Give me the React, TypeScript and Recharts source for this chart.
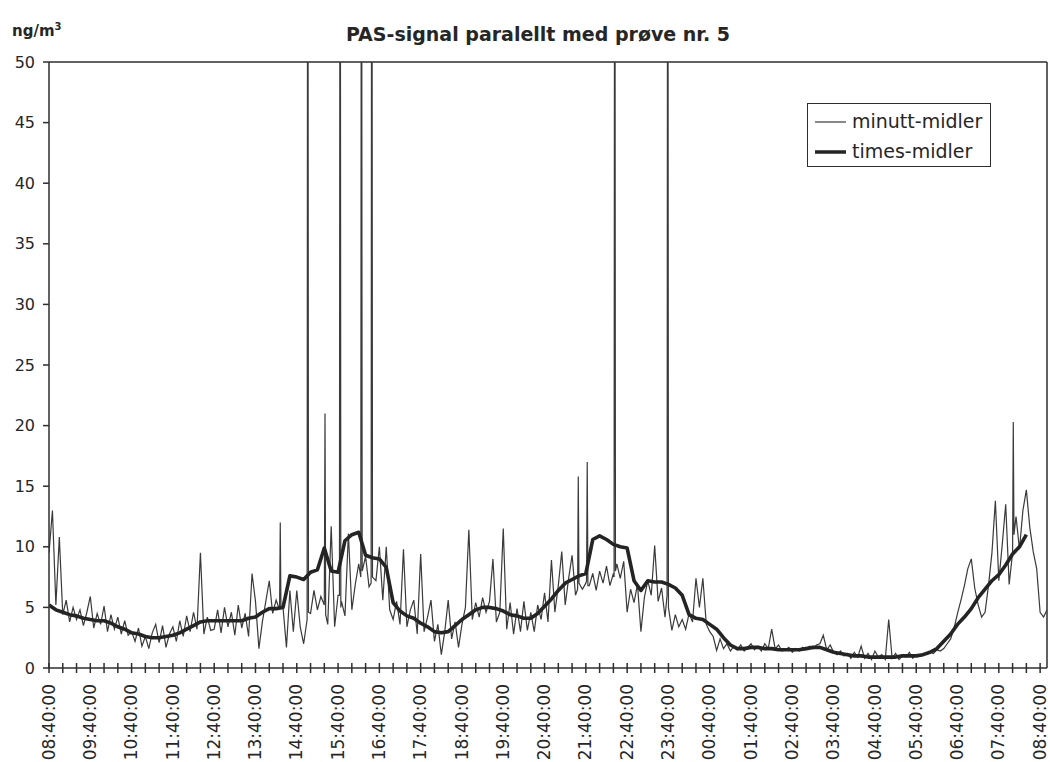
import { LineChart, Line, XAxis, YAxis, ReferenceLine, Legend } from 'recharts'

// colours
const AXIS = '#2e2e2e'
const TEXT = '#262626'
const MINUTE_COLOR = '#3a3a3a'
const HOUR_COLOR = '#242424'
const FONT = '"DejaVu Sans", Verdana, sans-serif'

// x axis: minutes after 08:40, one tick every 20 minutes, a label every hour.
// The frame runs a little past the last tick (to about 08:50).
const X_END = 1450
const HOUR_LABELS = [
  '08:40:00', '09:40:00', '10:40:00', '11:40:00', '12:40:00', '13:40:00',
  '14:40:00', '15:40:00', '16:40:00', '17:40:00', '18:40:00', '19:40:00',
  '20:40:00', '21:40:00', '22:40:00', '23:40:00', '00:40:00', '01:40:00',
  '02:40:00', '03:40:00', '04:40:00', '05:40:00', '06:40:00', '07:40:00',
  '08:40:00'
]
const X_TICKS = Array.from({ length: 73 }, (_, i) => i * 20)
const Y_TICKS = [0, 5, 10, 15, 20, 25, 30, 35, 40, 45, 50]

// minutt-midler, read every 5 minutes (one row = one hour)
const MINUTE_STEP = 5
const minuteValues = [
  9.5, 13.0, 5.2, 10.8, 4.4, 5.6, 3.8, 5.0, 4.0, 4.8, 3.5, 4.6,
  5.9, 3.3, 4.5, 3.6, 5.1, 3.0, 4.4, 3.2, 4.2, 2.8, 3.9, 2.7,
  3.0, 2.2, 3.3, 1.8, 2.6, 1.6, 2.9, 3.6, 2.1, 3.5, 1.7, 2.8,
  3.4, 2.2, 3.9, 2.6, 4.3, 3.0, 4.6, 3.2, 9.5, 2.8, 4.2, 3.1,
  3.2, 4.8, 2.9, 5.0, 3.4, 4.6, 2.7, 5.2, 3.3, 4.5, 2.6, 7.8,
  5.5, 1.6, 3.8, 5.5, 7.2, 4.5, 5.6, 4.8, 5.0, 1.7, 6.4, 3.0,
  6.4, 3.4, 2.0, 4.0, 4.5, 6.4, 4.8, 5.9, 5.2, 3.6, 11.7, 3.4,
  6.0, 5.5, 4.3, 11.1, 4.8, 6.9, 8.6, 8.0, 9.2, 6.7, 7.5, 7.2,
  10.0, 5.6, 10.0, 4.8, 4.0, 5.5, 3.6, 9.8, 3.4, 4.8, 5.6, 2.8,
  9.4, 3.0, 4.2, 5.6, 2.2, 3.6, 1.1, 3.0, 5.6, 2.4, 3.8, 1.7,
  3.6, 5.0, 11.4, 4.0, 5.4, 4.2, 5.8, 4.6, 5.5, 9.0, 3.8, 4.6,
  11.5, 3.2, 5.4, 2.8, 4.9, 3.0, 5.5, 3.1, 4.6, 3.0, 5.2, 4.0,
  6.2, 3.8, 8.9, 4.6, 6.8, 9.6, 5.2, 7.4, 9.3, 6.0, 7.0, 6.5,
  7.0, 6.8, 7.8, 6.4, 8.0, 7.0, 8.4, 6.8, 7.8, 8.6, 7.4, 8.8,
  4.6, 6.5, 5.4, 6.9, 3.0, 5.8, 7.2, 6.0, 10.1, 5.5, 6.6, 4.2,
  5.0, 3.1, 4.4, 3.4, 4.0, 3.2, 4.5, 3.8, 7.4, 5.0, 7.4, 3.6,
  3.0, 2.6, 1.45, 2.4, 1.6, 2.0, 1.4, 1.8, 1.5, 1.9, 1.4, 1.7,
  2.0, 1.5, 1.8, 1.4, 2.0, 1.6, 3.2, 1.6, 1.9, 1.4, 1.5, 1.7,
  1.3, 1.6, 1.4, 1.7, 1.5, 1.8, 1.6, 1.9, 2.0, 2.7, 1.5, 1.9,
  1.3, 1.1, 1.4, 1.0, 1.2, 0.8, 1.3, 0.9, 1.8, 0.8, 1.2, 0.7,
  1.4, 0.9, 1.1, 0.7, 4.0, 0.8, 1.2, 0.7, 1.0, 0.9, 1.3, 0.8,
  1.1, 1.0, 1.2, 1.1, 1.3, 1.2, 1.5, 1.4, 1.6, 2.0, 2.4, 3.3,
  4.5, 5.6, 6.8, 8.2, 9.0, 6.6, 5.2, 4.2, 4.6, 6.8, 9.5, 13.8,
  7.2, 10.2, 13.5, 6.9, 9.5, 12.5, 9.8, 13.0, 14.7, 11.6, 9.6, 8.2,
  4.6, 4.2, 4.8
]

// sharp one-minute spikes [minute, value]; values above 50 are off the scale and get clipped
const SPIKE_POINTS: [number, number][] = [
  [335, 4.8], [336, 12.0], [337, 5.0],
  [375, 4.0], [376, 90], [377, 4.6],
  [400, 5.2], [401, 21.0], [402, 4.4],
  [422, 6.0], [423, 90], [424, 5.0],
  [453, 7.5], [454, 90], [455, 8.0],
  [468, 7.0], [469, 90], [470, 7.5],
  [768, 6.5], [769, 15.8], [770, 7.0],
  [781, 7.2], [782, 17.0], [783, 6.8],
  [821, 7.5], [822, 90], [823, 8.0],
  [898, 6.0], [899, 90], [900, 5.0],
  [1400, 9.5], [1401, 20.3], [1402, 11.0]
]

// times-midler, read every 10 minutes (the line stops around 08:20)
const HOUR_STEP = 10
const hourValues = [
  5.2, 4.8, 4.6, 4.4, 4.3, 4.1,
  4.0, 3.9, 3.9, 3.7, 3.4, 3.2,
  2.9, 2.8, 2.6, 2.5, 2.5, 2.6,
  2.7, 2.9, 3.2, 3.5, 3.8, 3.9,
  3.9, 3.9, 3.9, 3.9, 3.9, 4.1,
  4.2, 4.6, 4.9, 4.9, 5.0, 7.6,
  7.5, 7.3, 7.9, 8.1, 9.9, 8.0,
  7.9, 10.5, 11.0, 11.2, 9.3, 9.1,
  9.0, 8.3, 5.4, 4.7, 4.3, 4.1,
  3.7, 3.4, 3.0, 2.9, 3.0, 3.5,
  4.0, 4.4, 4.8, 5.0, 5.0, 4.9,
  4.7, 4.4, 4.3, 4.1, 4.1, 4.5,
  5.1, 5.7, 6.4, 7.0, 7.3, 7.6,
  7.8, 10.6, 10.9, 10.6, 10.2, 10.0,
  9.9, 7.2, 6.4, 7.2, 7.1, 7.1,
  6.9, 6.6, 6.0, 4.4, 4.1, 4.0,
  3.6, 3.2, 2.5, 1.9, 1.6, 1.6,
  1.7, 1.7, 1.6, 1.6, 1.5, 1.5,
  1.5, 1.5, 1.6, 1.7, 1.7, 1.5,
  1.3, 1.2, 1.1, 1.0, 1.0, 0.9,
  0.9, 0.9, 0.9, 0.9, 1.0, 1.0,
  1.0, 1.1, 1.3, 1.6, 2.2, 2.8,
  3.6, 4.2, 4.9, 5.8, 6.5, 7.2,
  7.7, 8.5, 9.4, 10.0, 11.0
]

const spikeMinutes = new Set(SPIKE_POINTS.map(([t]) => t))
const minuteData = [
  ...minuteValues
    .map((v, i) => ({ t: i * MINUTE_STEP, v }))
    .filter((p) => !spikeMinutes.has(p.t)),
  ...SPIKE_POINTS.map(([t, v]) => ({ t, v }))
].sort((a, b) => a.t - b.t)
const hourData = hourValues.map((v, i) => ({ t: i * HOUR_STEP, v }))

const LEGEND_ITEMS = [
  { name: 'minutt-midler', color: MINUTE_COLOR, width: 1.2 },
  { name: 'times-midler', color: HOUR_COLOR, width: 3.5 }
]

const TimeTick = (props: any) => {
  const { x, y, payload } = props
  const t = payload.value as number
  const label = t % 60 === 0 ? HOUR_LABELS[t / 60] : null
  return (
    <g>
      <line x1={x} x2={x} y1={y - 5} y2={y + 5} stroke={AXIS} strokeWidth={1.5} />
      {label && (
        <text
          transform={`translate(${x},${y + 16}) rotate(-90)`}
          textAnchor="end"
          dy="0.33em"
          fontSize={17}
          fontFamily={FONT}
          fill={TEXT}
        >
          {label}
        </text>
      )}
    </g>
  )
}

const LegendBox = () => (
  <div
    style={{
      width: 184,
      height: 64,
      boxSizing: 'border-box',
      border: `1.5px solid ${AXIS}`,
      background: '#fff',
      fontFamily: FONT,
      fontSize: 19,
      color: TEXT,
      paddingTop: 2.5
    }}
  >
    {LEGEND_ITEMS.map((item) => (
      <div key={item.name} style={{ display: 'flex', alignItems: 'center', height: 30 }}>
        <svg width={44} height={10} style={{ flex: 'none' }}>
          <line x1={7} x2={38} y1={5} y2={5} stroke={item.color} strokeWidth={item.width} />
        </svg>
        <span style={{ lineHeight: 1 }}>{item.name}</span>
      </div>
    ))}
  </div>
)

export default function App() {
  return (
    <div style={{ position: 'absolute', left: 0, top: 0, width: 1050, height: 762, background: '#fff', fontFamily: FONT }}>
      <div
        style={{
          position: 'absolute',
          left: 12,
          top: 21,
          fontSize: 15,
          fontWeight: 'bold',
          color: TEXT
        }}
      >
        ng/m<sup style={{ fontSize: 10 }}>3</sup>
      </div>
      <div
        style={{
          position: 'absolute',
          left: 538,
          top: 23,
          transform: 'translateX(-50%)',
          whiteSpace: 'nowrap',
          fontSize: 19,
          fontWeight: 'bold',
          color: TEXT
        }}
      >
        PAS-signal paralellt med prøve nr. 5
      </div>

      <LineChart width={1050} height={762} margin={{ top: 62, right: 3, bottom: 4, left: 9 }}>
        <XAxis
          type="number"
          dataKey="t"
          domain={[0, X_END]}
          ticks={X_TICKS}
          interval={0}
          allowDataOverflow
          height={90}
          tickSize={0}
          tickMargin={0}
          tickLine={false}
          tick={<TimeTick />}
          axisLine={{ stroke: AXIS, strokeWidth: 1.5 }}
        />
        <YAxis
          type="number"
          domain={[0, 50]}
          ticks={Y_TICKS}
          interval={0}
          allowDataOverflow
          width={40}
          tickSize={6}
          tickMargin={8}
          tick={{ fontSize: 16, fill: TEXT, fontFamily: FONT }}
          tickLine={{ stroke: AXIS, strokeWidth: 1.5 }}
          axisLine={{ stroke: AXIS, strokeWidth: 1.5 }}
        />
        <ReferenceLine y={50} stroke={AXIS} strokeWidth={1.5} />
        <ReferenceLine x={X_END} stroke={AXIS} strokeWidth={1.5} />
        <Legend
          layout="horizontal"
          verticalAlign="middle"
          align="center"
          wrapperStyle={{ left: 807, top: 103, width: 184 }}
          content={<LegendBox />}
        />
        <Line
          data={minuteData}
          dataKey="v"
          name="minutt-midler"
          type="linear"
          stroke={MINUTE_COLOR}
          strokeWidth={1.2}
          dot={false}
          activeDot={false}
          isAnimationActive={false}
        />
        <Line
          data={hourData}
          dataKey="v"
          name="times-midler"
          type="linear"
          stroke={HOUR_COLOR}
          strokeWidth={3.6}
          strokeLinejoin="round"
          dot={false}
          activeDot={false}
          isAnimationActive={false}
        />
      </LineChart>
    </div>
  )
}
